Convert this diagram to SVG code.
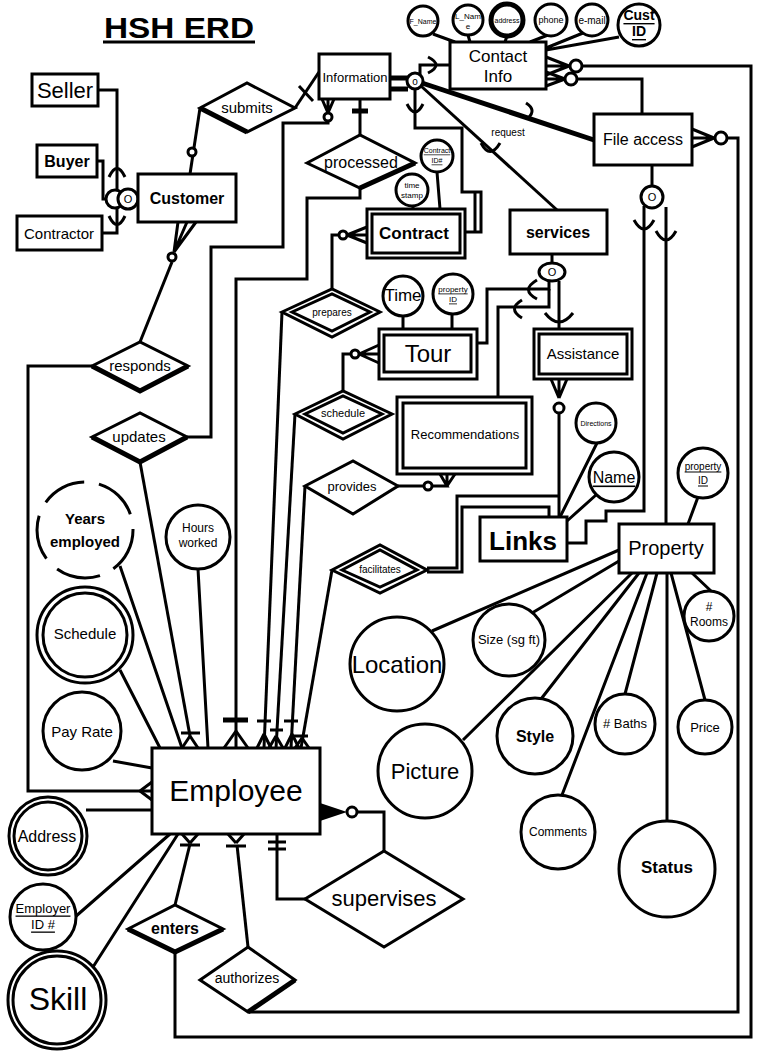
<svg xmlns="http://www.w3.org/2000/svg" width="779" height="1057" viewBox="0 0 779 1057">
<style>
.l{fill:none;stroke:#000;stroke-width:3}
.t{fill:none;stroke:#000;stroke-width:5}
.b{fill:#fff;stroke:#000;stroke-width:3}
.d{fill:#fff;stroke:#000;stroke-width:5}
.s{fill:#fff;stroke:#000;stroke-width:2.5}
text{font-family:"Liberation Sans",Arial,sans-serif;text-anchor:middle;dominant-baseline:central;fill:#000}
.bd{font-weight:bold}
.u{text-decoration:underline}
</style>
<rect width="779" height="1057" fill="#fff"/>
<g id="title">
<text x="179" y="27" class="bd" font-size="30" textLength="150" lengthAdjust="spacingAndGlyphs">HSH  ERD</text>
<line x1="103" y1="42" x2="255" y2="42" stroke="#000" stroke-width="3"/>
</g>
<g id="connectors">
<!-- customer subset -->
<path class="l" d="M98,90 H117 V233 H102"/>
<path class="l" d="M97,161 H103 V199 H106"/>
<path class="l" d="M109,177 Q117,160 125,177"/>
<path class="l" d="M109,216 Q117,233 125,216"/>
<path class="l" d="M190,174 L200,108"/>
<circle class="b" cx="192" cy="152" r="4"/>
<path class="l" d="M140,342 L172,262"/>
<circle class="b" cx="172" cy="257" r="4"/>
<path class="l" d="M174,252 L178,222 M174,252 L187,222 M174,252 L196,222"/>
<path class="l" d="M92,366 H28 V791 H152"/>
<path class="l" d="M140,791 L152,782 M140,791 L152,800"/>
<!-- submits - information -->
<path class="l" d="M295,108 L319,72"/>
<path class="l" d="M299,86 L313,101"/>
<!-- updates -->
<path class="l" d="M187,437 H211 V247 H283 V123 H328 V121"/>
<circle class="b" cx="328" cy="117" r="4"/>
<path class="l" d="M328,113 L322,99 M328,113 L328,99 M328,113 L334,99"/>
<path class="l" d="M140,462 L190,736"/>
<path class="l" d="M190,736 L182,748 M190,736 L198,748 M181,733 H200"/>
<!-- processed -->
<path class="l" d="M360,99 V135"/>
<path class="t" d="M352,111 H368"/>
<path class="l" d="M360,188 V198 H307 V279 H236 V748"/>
<path class="t" d="M223,720 H248"/>
<path class="l" d="M236,731 L224,748 M236,731 L248,748"/>
<!-- prepares -->
<path class="l" d="M332,289 V235 H339"/>
<circle class="b" cx="343" cy="235" r="4"/>
<path class="l" d="M347,235 L367,227 M347,235 H367 M347,235 L367,243"/>
<path class="l" d="M282,312 L264,748"/>
<path class="l" d="M264,734 L257,748 M264,734 L271,748 M257,721 H271"/>
<!-- schedule -->
<path class="l" d="M343,391 V354 H351"/>
<circle class="b" cx="355" cy="354" r="4"/>
<path class="l" d="M359,354 L379,345 M359,354 H379 M359,354 L379,363"/>
<path class="l" d="M295,414 L276,748"/>
<path class="l" d="M276,736 L269,748 M276,736 L283,748 M270,730 H283"/>
<!-- provides -->
<path class="l" d="M398,486 H424"/>
<circle class="b" cx="428" cy="486" r="4"/>
<path class="l" d="M432,486 H447 L440,474 M447,486 V474 M447,486 L455,474"/>
<path class="l" d="M305,486 L291,748"/>
<path class="l" d="M292,734 L285,748 M292,734 L299,748 M284,721 H298"/>
<!-- facilitates -->
<path class="l" d="M332,570 L301,748"/>
<path class="l" d="M302,738 L295,748 M302,738 L309,748 M294,736 H308"/>
<path class="l" d="M427,568 H457 V496 H559"/>
<path class="l" d="M427,572 H462 V507 H549 V517"/>
<!-- information circle -->
<path class="t" d="M390,78 H408 M390,89 H408"/>
<path class="l" d="M420,74 V65 H450"/>
<path class="l" d="M428,57 Q444,65 428,73"/>
<path class="l" d="M415,89 V128 H462 V192 H481 V232 H465"/>
<path class="l" d="M475,192 V232"/>
<path class="l" d="M407,104 Q415,120 423,104"/>
<path class="l" d="M421,86 L557,210"/>
<path class="l" d="M481,143 Q490,160 500,143"/>
<path class="t" d="M422,83 L594,140"/>
<path class="l" d="M526,103 Q537,110 528,118"/>
<!-- contact info right -->
<path class="l" d="M569,66 L546,57 M569,66 H546 M569,66 L546,75"/>
<circle class="b" cx="576" cy="66" r="6"/>
<path class="l" d="M582,66 H751 V1037 H175 V952"/>
<path class="l" d="M565,79 L546,72 M565,79 H546 M565,79 L546,86"/>
<circle class="b" cx="571" cy="79" r="6"/>
<path class="l" d="M577,79 H642 V114"/>
<!-- file access -->
<path class="l" d="M714,138 L692,129 M714,138 H692 M714,138 L692,147"/>
<circle class="b" cx="721" cy="138" r="6"/>
<path class="l" d="M727,138 H738 V1012 H248"/>
<path class="l" d="M652,165 V186"/>
<path class="l" d="M644,206 V511 H606 V521 H586 V543 H567"/>
<path class="l" d="M666,207 V524"/>
<path class="l" d="M634,220 Q644,238 654,220"/>
<path class="l" d="M656,231 Q666,249 676,231"/>
<!-- services -->
<path class="l" d="M552,254 V263"/>
<path class="l" d="M549,281 V289 H487 V343 H477"/>
<path class="l" d="M537,280 Q520,290 537,299"/>
<path class="l" d="M549,289 V307 H498 V397"/>
<path class="l" d="M522,300 Q507,309 522,318"/>
<path class="l" d="M559,281 V329"/>
<path class="l" d="M545,313 Q559,331 573,313"/>
<!-- assistance -->
<path class="l" d="M559,398 L551,379 M559,398 V379 M559,398 L567,379"/>
<circle class="b" cx="559" cy="408" r="5"/>
<path class="l" d="M559,413 V517"/>
<!-- attributes lines -->
<path class="l" d="M433,34 L455,42 M468,35 L470,42 M507,36 L505,42 M548,35 L530,42 M583,33 L546,48 M619,37 L546,50"/>
<path class="l" d="M437,172 L440,209 M413,206 V209"/>
<path class="l" d="M403,316 V329 M452,314 V329"/>
<path class="l" d="M597,443 L559,519 M596,495 L567,521"/>
<path class="l" d="M698,497 L688,524 M711,591 L692,573 M705,700 L671,573 M625,694 L657,573 M667,821 V573 M562,795 L647,573 M541,699 L639,573 M463,740 L632,573 M532,613 L619,561 M432,631 L619,550"/>
<path class="l" d="M120,566 L182,748 M198,569 L208,748 M120,670 L160,748 M113,761 L152,768 M86,810 H152 M75,917 L170,834 M93,967 L178,834"/>
<!-- enters / authorizes / supervises -->
<path class="l" d="M175,905 L190,844"/>
<path class="l" d="M190,843 L182,834 M190,843 L198,834 M180,845 H200"/>
<path class="l" d="M248,947 L237,845"/>
<path class="l" d="M236,843 L228,834 M236,843 L244,834 M226,846 H246"/>
<path class="l" d="M384,851 V812 H357"/>
<circle class="b" cx="352" cy="812" r="5"/>
<path d="M347,812 L320,803 L320,821 Z" fill="#000"/>
<path class="l" d="M305,899 H277 V834"/>
<path class="l" d="M268,842 H286 M268,849 H286"/>
</g>
<g id="seller"><rect class="b" x="32" y="74" width="66" height="32"/><text x="65" y="90" font-size="22">Seller</text></g>
<g id="buyer"><rect class="b" x="37" y="145" width="60" height="32"/><text x="67" y="161" font-size="16" class="bd">Buyer</text></g>
<g id="contractor"><rect class="b" x="17" y="216" width="85" height="34"/><text x="59" y="233" font-size="15">Contractor</text></g>
<g id="subset-circle"><circle class="b" cx="115" cy="199" r="9"/><circle class="b" cx="128" cy="199" r="10"/><text x="128" y="199" font-size="11">O</text></g>
<g id="customer"><rect class="b" x="138" y="174" width="98" height="48"/><text x="187" y="198" font-size="16" class="bd">Customer</text></g>
<g id="submits"><polygon class="b" points="200,108 247,83 295,108 247,132"/><path class="t" d="M200,108 L247,132"/><text x="247" y="107" font-size="15">submits</text></g>
<g id="information"><rect class="b" x="319" y="54" width="71" height="45"/><text x="355" y="77" font-size="13">Information</text></g>
<g id="info-circle"><circle class="b" cx="415" cy="81" r="8"/><text x="415" y="81" font-size="10">o</text></g>
<g id="contact-info"><rect class="b" x="450" y="42" width="96" height="47"/><text x="498" y="56" font-size="17">Contact</text><text x="498" y="76" font-size="17">Info</text></g>
<g id="f-name"><circle class="b" cx="423" cy="21" r="15"/><text x="423" y="21" font-size="7">F_Name</text></g>
<g id="l-name"><circle class="b" cx="468" cy="20" r="15"/><text x="468" y="16" font-size="8">L_Nam</text><text x="468" y="26" font-size="8">e</text></g>
<g id="address-c"><circle class="d" cx="507" cy="20" r="16"/><text x="507" y="20" font-size="7">address</text></g>
<g id="phone"><circle class="b" cx="551" cy="20" r="16"/><text x="551" y="20" font-size="9">phone</text></g>
<g id="e-mail"><circle class="b" cx="592" cy="20" r="16"/><text x="592" y="20" font-size="10">e-mail</text></g>
<g id="cust-id"><circle class="b" cx="639" cy="25" r="21"/><text x="639" y="15" font-size="14" class="bd u">Cust</text><text x="639" y="31" font-size="14" class="bd u">ID</text></g>
<g id="request"><text x="508" y="132" font-size="10">request</text></g>
<g id="file-access"><rect class="b" x="594" y="114" width="98" height="51"/><text x="643" y="139" font-size="16">File access</text></g>
<g id="fa-circle"><circle class="b" cx="652" cy="197" r="11"/><text x="652" y="197" font-size="11">O</text></g>
<g id="processed"><polygon class="b" points="307,163 360,135 415,163 360,188"/><path class="t" d="M360,188 L415,163"/><text x="361" y="162" font-size="16">processed</text></g>
<g id="contract-id"><circle class="b" cx="437" cy="156" r="16"/><text x="437" y="150" font-size="7" class="u">Contract</text><text x="437" y="160" font-size="7" class="u">ID#</text></g>
<g id="time-stamp"><circle class="b" cx="412" cy="190" r="16"/><text x="412" y="185" font-size="8">time</text><text x="412" y="195" font-size="8">stamp</text></g>
<g id="contract"><rect class="b" x="367" y="209" width="98" height="49"/><rect class="b" x="372" y="214" width="88" height="39"/><text x="414" y="233" font-size="17" class="bd">Contract</text></g>
<g id="services"><rect class="b" x="510" y="210" width="97" height="44"/><text x="558" y="232" font-size="16" class="bd">services</text></g>
<g id="serv-circle"><ellipse class="b" cx="552" cy="272" rx="13" ry="9"/><text x="552" y="272" font-size="11">O</text></g>
<g id="prepares"><polygon class="b" points="282,312 332,289 380,312 332,337"/><polygon class="b" points="292,312 332,294 370,312 332,331"/><text x="332" y="312" font-size="10">prepares</text></g>
<g id="time"><circle class="b" cx="403" cy="296" r="20"/><text x="403" y="295" font-size="17">Time</text></g>
<g id="tour-property-id"><circle class="b" cx="453" cy="294" r="20"/><text x="453" y="289" font-size="8" class="u">property</text><text x="453" y="299" font-size="8" class="u">ID</text></g>
<g id="tour"><rect class="b" x="379" y="329" width="98" height="50"/><rect class="b" x="384" y="335" width="87" height="37"/><text x="428" y="353" font-size="24">Tour</text></g>
<g id="assistance"><rect class="b" x="534" y="329" width="98" height="50"/><rect class="b" x="539" y="334" width="88" height="40"/><text x="583" y="353" font-size="15">Assistance</text></g>
<g id="schedule-rel"><polygon class="b" points="295,414 343,391 392,414 343,439"/><polygon class="b" points="305,414 343,396 382,414 343,433"/><text x="343" y="413" font-size="11">schedule</text></g>
<g id="recommendations"><rect class="b" x="397" y="397" width="135" height="77"/><rect class="b" x="403" y="403" width="123" height="65"/><text x="465" y="434" font-size="13">Recommendations</text></g>
<g id="provides"><polygon class="b" points="305,486 353,461 398,486 353,514"/><text x="352" y="486" font-size="13">provides</text></g>
<g id="directions"><circle class="b" cx="596" cy="423" r="20"/><text x="596" y="423" font-size="7">Directions</text></g>
<g id="name"><circle class="b" cx="614" cy="477" r="25"/><text x="614" y="477" font-size="16" class="u">Name</text></g>
<g id="links"><rect class="b" x="480" y="517" width="87" height="44"/><text x="523" y="541" font-size="26" class="bd">Links</text></g>
<g id="facilitates"><polygon class="b" points="332,570 380,545 427,570 380,593"/><polygon class="b" points="342,570 380,550 417,570 380,587"/><text x="380" y="569" font-size="10">facilitates</text></g>
<g id="property-id"><circle class="b" cx="703" cy="473" r="25"/><text x="703" y="466" font-size="10" class="u">property</text><text x="703" y="480" font-size="10" class="u">ID</text></g>
<g id="property"><rect class="b" x="619" y="524" width="95" height="49"/><text x="666" y="548" font-size="20">Property</text></g>
<g id="rooms"><circle class="b" cx="709" cy="616" r="25"/><text x="709" y="607" font-size="12">#</text><text x="709" y="622" font-size="12">Rooms</text></g>
<g id="size"><circle class="b" cx="509" cy="640" r="36"/><text x="509" y="639" font-size="13">Size (sg ft)</text></g>
<g id="location"><circle class="b" cx="397" cy="664" r="47"/><text x="397" y="664" font-size="24">Location</text></g>
<g id="style-a"><circle class="b" cx="535" cy="736" r="38"/><text x="535" y="736" font-size="16" class="bd">Style</text></g>
<g id="baths"><circle class="b" cx="625" cy="724" r="30"/><text x="625" y="723" font-size="13"># Baths</text></g>
<g id="price"><circle class="b" cx="705" cy="727" r="27"/><text x="705" y="727" font-size="13">Price</text></g>
<g id="picture"><circle class="b" cx="425" cy="771" r="47"/><text x="425" y="771" font-size="22">Picture</text></g>
<g id="comments"><circle class="b" cx="558" cy="832" r="37"/><text x="558" y="832" font-size="12">Comments</text></g>
<g id="status"><circle class="b" cx="667" cy="869" r="48"/><text x="667" y="867" font-size="17" class="bd">Status</text></g>
<g id="responds"><polygon class="b" points="92,366 140,342 188,366 140,391"/><path class="t" d="M92,366 L140,391 L188,366"/><text x="140" y="365" font-size="15">responds</text></g>
<g id="updates"><polygon class="b" points="92,437 140,413 187,437 140,462"/><path class="t" d="M92,437 L140,462 L187,437"/><text x="139" y="436" font-size="15">updates</text></g>
<g id="years-employed"><circle cx="85" cy="530" r="48" fill="#fff" stroke="#000" stroke-width="3" stroke-dasharray="45 15"/><text x="85" y="518" font-size="15" class="bd">Years</text><text x="85" y="541" font-size="15" class="bd">employed</text></g>
<g id="hours-worked"><circle class="b" cx="198" cy="537" r="32"/><text x="198" y="528" font-size="12">Hours</text><text x="198" y="543" font-size="12">worked</text></g>
<g id="schedule-attr"><circle class="b" cx="85" cy="635" r="48"/><circle class="b" cx="85" cy="635" r="42"/><text x="85" y="633" font-size="15">Schedule</text></g>
<g id="pay-rate"><circle class="b" cx="82" cy="731" r="39"/><text x="82" y="731" font-size="15">Pay Rate</text></g>
<g id="employee"><rect class="b" x="152" y="748" width="168" height="86"/><text x="236" y="790" font-size="30">Employee</text></g>
<g id="address"><circle class="b" cx="48" cy="836" r="39"/><circle class="b" cx="48" cy="836" r="34"/><text x="47" y="836" font-size="16">Address</text></g>
<g id="employer-id"><circle class="b" cx="43" cy="917" r="33"/><text x="43" y="908" font-size="13" class="u">Employer</text><text x="43" y="924" font-size="13" class="u">ID #</text></g>
<g id="skill"><circle class="b" cx="57" cy="1000" r="49"/><circle class="b" cx="57" cy="1000" r="44"/><text x="58" y="999" font-size="32">Skill</text></g>
<g id="enters"><polygon class="b" points="128,929 175,905 223,929 175,952"/><path class="t" d="M128,929 L175,952 L223,929"/><text x="175" y="928" font-size="16" class="bd">enters</text></g>
<g id="authorizes"><polygon class="b" points="200,980 248,947 295,980 248,1012"/><path class="t" d="M248,1012 L295,980"/><text x="247" y="978" font-size="14">authorizes</text></g>
<g id="supervises"><polygon class="b" points="305,899 384,851 463,899 384,947"/><text x="384" y="898" font-size="22">supervises</text></g>
</svg>
